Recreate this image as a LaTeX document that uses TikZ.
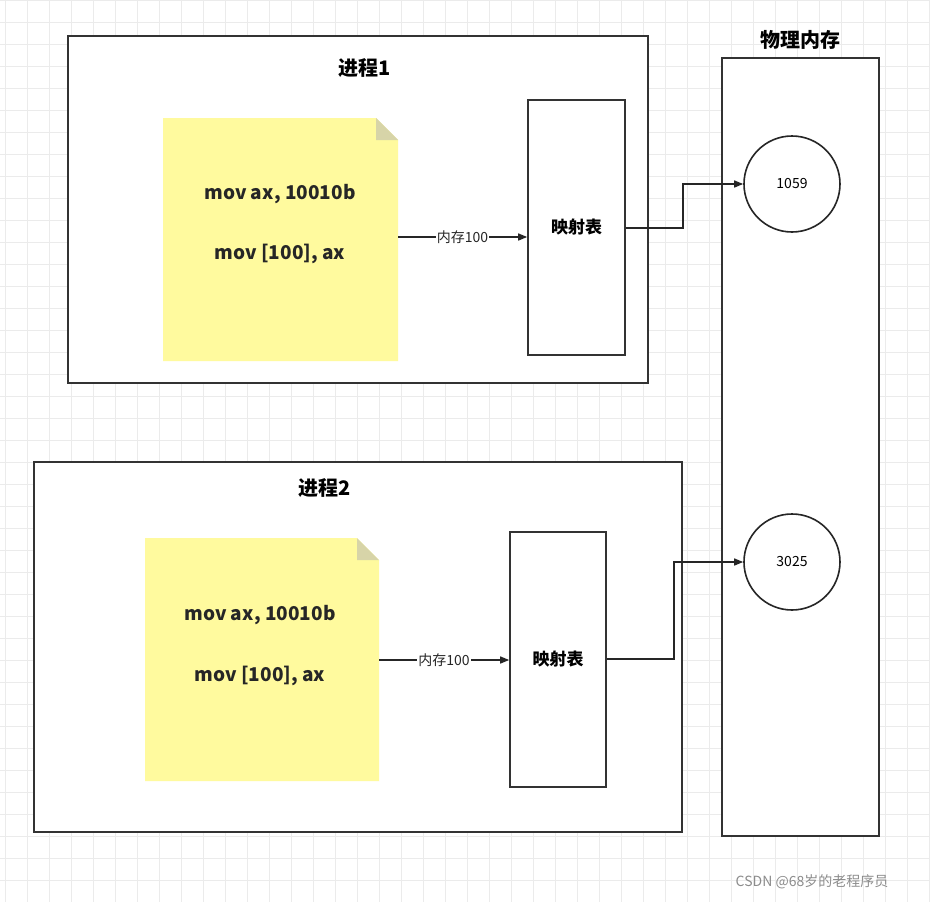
\documentclass[tikz,border=0pt]{standalone}
\usepackage{fontspec}
\setmainfont{Noto Sans CJK SC}
\usetikzlibrary{arrows.meta}
\begin{document}
\begin{tikzpicture}[x=1pt,y=-1pt,
  box/.style={draw=black!80,line width=1.8pt},
  note/.style={fill=yellow!38!white,draw=none},
  conn/.style={draw=black!85,line width=1.4pt,-{Triangle[length=9pt,width=7pt]}},
  ttl/.style={font=\fontsize{20}{24}\selectfont\bfseries},
  code/.style={font=\fontsize{19}{22}\selectfont\bfseries,text=black!85},
  lbl/.style={font=\fontsize{14}{16}\selectfont,text=black!85,fill=white,inner sep=1pt},
  mem/.style={draw=black!85,line width=1.6pt,circle,minimum size=96pt,font=\fontsize{14}{16}\selectfont}]
\useasboundingbox (0,0) rectangle (930,902);
\fill[white] (0,0) rectangle (930,902);
\foreach \x in {5,27,...,930} \draw[black!8,line width=1pt] (\x,0) -- (\x,902);
\foreach \y in {0,22,...,902} \draw[black!8,line width=1pt] (0,\y) -- (930,\y);
% process 1
\draw[box,fill=white] (68,36) rectangle (648,383);
\node[ttl] (t1) at (365,68) {进程1};
\fill[note] (163,118) -- (376,118) -- (398,140) -- (398,361) -- (163,361) -- cycle;
\fill[yellow!55!black!40] (376,118) -- (398,140) -- (376,140) -- cycle;
\coordinate (n1) at (398,237);
\node[code] at (280,194) {mov ax, 10010b};
\node[code] at (280,254) {mov [100], ax};
\node[box,minimum width=97pt,minimum height=255pt,line width=1.6pt,font=\fontsize{17}{20}\selectfont\bfseries] (m1) at (576.5,227.5) {映射表};
\draw[conn] (n1) -- (m1.west|-n1) node[lbl,midway] {内存100};
% physical memory
\node[ttl] (pt) at (800,40) {物理内存};
\draw[box,fill=white] (722,58) rectangle (879,836);
\node[mem] (c1) at (792,184) {1059};
\node[mem] (c2) at (792,562) {3025};
\draw[conn] (m1.east|-0,228) -- (683,228) -- (683,184) -- (c1.west);
% process 2
\draw[box,fill=white] (34,462) rectangle (682,832);
\node[ttl] (t2) at (325,488) {进程2};
\fill[note] (145,538) -- (357,538) -- (379,560) -- (379,781) -- (145,781) -- cycle;
\fill[yellow!55!black!40] (357,538) -- (379,560) -- (357,560) -- cycle;
\coordinate (n2) at (379,660);
\node[code] at (260,615) {mov ax, 10010b};
\node[code] at (260,676) {mov [100], ax};
\node[box,minimum width=96pt,minimum height=255pt,line width=1.6pt,font=\fontsize{17}{20}\selectfont\bfseries] (m2) at (558,659.5) {映射表};
\draw[conn] (n2) -- (m2.west|-n2) node[lbl,midway] {内存100};
\draw[conn] (m2.east|-0,659) -- (674,659) -- (674,562) -- (c2.west);
\node[font=\fontsize{14}{16}\selectfont,text=black!45] (wm) at (812,882) {CSDN @68岁的老程序员};
\end{tikzpicture}
\end{document}
